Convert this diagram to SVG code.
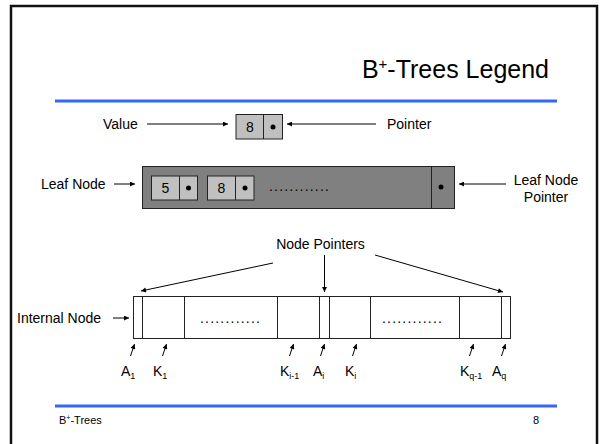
<svg xmlns="http://www.w3.org/2000/svg" width="600" height="444" viewBox="0 0 600 444">
<defs>
<marker id="ah" viewBox="0 0 10 10" refX="10" refY="5" markerWidth="6" markerHeight="5" markerUnits="userSpaceOnUse" orient="auto">
<path d="M0,0 L10,5 L0,10 z" fill="#000"/>
</marker>
<style>
text{font-family:"Liberation Sans",Arial,sans-serif;fill:#000}
.lbl{font-size:14px}
.sub{font-size:9px}
.con{stroke:#000;stroke-width:1;fill:none;marker-end:url(#ah)}
.cell{stroke:#222;stroke-width:1}
.lt{fill:#c0c0c0}
.dk{fill:#808080}
.wh{fill:#fff}
.dots{font-size:14px;letter-spacing:1.2px}
.blue{stroke:#3366ff;stroke-width:3}
</style>
</defs>
<rect x="11" y="6" width="586" height="442" fill="#fff" stroke="#111" stroke-width="2.5"/>
<text x="549" y="78" font-size="25" text-anchor="end">B<tspan font-size="15" dy="-9">+</tspan><tspan dy="9">-Trees Legend</tspan></text>
<line class="blue" x1="55" y1="101" x2="557" y2="101"/>
<line class="blue" x1="55" y1="406" x2="557" y2="406"/>
<text x="59" y="424" font-size="11">B<tspan font-size="7" dy="-4">+</tspan><tspan dy="4">-Trees</tspan></text>
<text x="539" y="424" font-size="11" text-anchor="end">8</text>

<g id="value-pointer">
<rect class="cell lt" x="236" y="114.5" width="46.5" height="24.5"/>
<line class="cell" x1="263.5" y1="114.5" x2="263.5" y2="139"/>
<text class="lbl" x="250" y="132" text-anchor="middle">8</text>
<circle cx="273" cy="127" r="2.5" fill="#000"/>
</g>
<g id="value-label"><text class="lbl" x="103" y="129">Value</text></g>
<g id="pointer-label"><text class="lbl" x="387" y="129">Pointer</text></g>

<g id="leaf-node">
<rect class="cell dk" x="142.5" y="166.5" width="312" height="42"/>
<line class="cell" x1="431.5" y1="166.5" x2="431.5" y2="208.5"/>
<circle cx="441" cy="187" r="2.5" fill="#000"/>
<rect class="cell lt" x="151.5" y="176" width="46" height="24"/>
<line class="cell" x1="179.5" y1="176" x2="179.5" y2="200"/>
<text class="lbl" x="165.5" y="193" text-anchor="middle">5</text>
<circle cx="188.5" cy="188" r="2.5" fill="#000"/>
<rect class="cell lt" x="207.5" y="176" width="46.5" height="24"/>
<line class="cell" x1="235.5" y1="176" x2="235.5" y2="200"/>
<text class="lbl" x="221.5" y="193" text-anchor="middle">8</text>
<circle cx="245" cy="188" r="2.5" fill="#000"/>
<text class="dots" x="269" y="191">............</text>
</g>
<g id="leaf-label"><text class="lbl" x="41" y="189">Leaf Node</text></g>
<g id="leaf-pointer-label"><text class="lbl" text-anchor="middle"><tspan x="546" y="185">Leaf Node</tspan><tspan x="546" y="202">Pointer</tspan></text></g>

<g id="internal-node">
<rect class="cell wh" x="133.5" y="296.5" width="377" height="42"/>
<line class="cell" x1="142.5" y1="296.5" x2="142.5" y2="338.5"/>
<line class="cell" x1="184.5" y1="296.5" x2="184.5" y2="338.5"/>
<line class="cell" x1="277.5" y1="296.5" x2="277.5" y2="338.5"/>
<line class="cell" x1="319.5" y1="296.5" x2="319.5" y2="338.5"/>
<line class="cell" x1="329.5" y1="296.5" x2="329.5" y2="338.5"/>
<line class="cell" x1="370.5" y1="296.5" x2="370.5" y2="338.5"/>
<line class="cell" x1="459.5" y1="296.5" x2="459.5" y2="338.5"/>
<line class="cell" x1="501.5" y1="296.5" x2="501.5" y2="338.5"/>
<text class="dots" x="200" y="323">............</text>
<text class="dots" x="382" y="323">............</text>
</g>
<g id="internal-label"><text class="lbl" x="17" y="323">Internal Node</text></g>
<g id="node-pointers-label"><text class="lbl" x="320.5" y="249" text-anchor="middle">Node Pointers</text></g>

<g id="sub-labels">
<text class="lbl" x="121" y="376">A<tspan class="sub" dy="3">1</tspan></text>
<text class="lbl" x="153" y="376">K<tspan class="sub" dy="3">1</tspan></text>
<text class="lbl" x="280" y="376">K<tspan class="sub" dy="3">i-1</tspan></text>
<text class="lbl" x="313" y="376">A<tspan class="sub" dy="3">i</tspan></text>
<text class="lbl" x="345" y="376">K<tspan class="sub" dy="3">i</tspan></text>
<text class="lbl" x="460" y="376">K<tspan class="sub" dy="3">q-1</tspan></text>
<text class="lbl" x="492" y="376">A<tspan class="sub" dy="3">q</tspan></text>
</g>

<g id="connectors">
<line class="con" x1="147" y1="124" x2="228" y2="124"/>
<line class="con" x1="376" y1="124" x2="287" y2="124"/>
<line class="con" x1="114" y1="184" x2="135" y2="184"/>
<line class="con" x1="506" y1="184" x2="459" y2="184"/>
<line class="con" x1="113" y1="318" x2="129" y2="318"/>
<line class="con" x1="273" y1="263" x2="141" y2="291"/>
<line class="con" x1="324.5" y1="255" x2="324.5" y2="292"/>
<line class="con" x1="375" y1="255" x2="503" y2="292"/>
<line class="con" x1="130.5" y1="356" x2="134.5" y2="344"/>
<line class="con" x1="162.5" y1="356" x2="166.5" y2="344"/>
<line class="con" x1="289.5" y1="356" x2="293.5" y2="344"/>
<line class="con" x1="320.5" y1="356" x2="324.5" y2="344"/>
<line class="con" x1="352.5" y1="356" x2="356.5" y2="344"/>
<line class="con" x1="469.5" y1="356" x2="473.5" y2="344"/>
<line class="con" x1="501.5" y1="356" x2="505.5" y2="344"/>
</g>
</svg>
